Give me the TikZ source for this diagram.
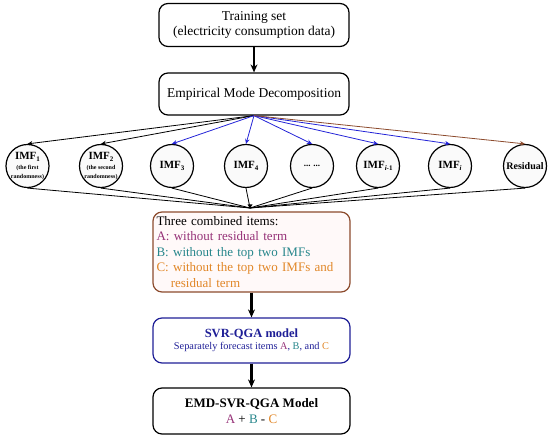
\documentclass[tikz,border=0pt]{standalone}
\usepackage{fontspec}
\setmainfont{Liberation Serif}
\usetikzlibrary{arrows.meta}

\definecolor{itemA}{RGB}{150,50,120}
\definecolor{itemB}{RGB}{40,135,140}
\definecolor{itemC}{RGB}{225,135,40}
\definecolor{brownline}{RGB}{140,75,45}
\definecolor{navy}{RGB}{30,30,150}
\definecolor{arrowblue}{RGB}{35,35,215}

\newcommand{\imfsub}[1]{\raisebox{-0.4ex}{\fontsize{7}{8}\selectfont #1}}
\newcommand{\tinyline}[1]{{\fontsize{6}{7}\selectfont #1}}

\tikzset{
  stagebox/.style={draw=black, line width=1.2pt, rounded corners=9pt, minimum width=190pt,
    align=center, font=\fontsize{13.5}{15.5}\selectfont},
  imfnode/.style={draw=black, line width=1.2pt, circle, minimum size=43pt, inner sep=0pt,
    fill=gray!4, align=center, font=\bfseries\fontsize{11}{12}\selectfont},
  flow/.style={-{Stealth[length=8pt,width=7pt]}, line width=2.4pt},
  split/.style={-{Stealth[length=5pt,width=4.5pt]}, line width=0.8pt},
  merge/.style={line width=0.8pt, black}
}

\begin{document}
\begin{tikzpicture}[x=1pt, y=1pt]
\useasboundingbox (0,0) rectangle (550,439);

% Input and decomposition
\node[stagebox, minimum height=43pt] (train) at (254,414)
  {Training set\\(electricity consumption data)};
\node[stagebox, minimum height=42pt] (emd) at (254,345)
  {Empirical Mode Decomposition};
\draw[flow] (train) -- (emd);

% Intrinsic mode functions
\def\circY{273}
\node[imfnode] (imf1) at (27.5,\circY)
  {IMF\imfsub{1}\\[-2pt]\tinyline{(the first}\\[-3pt]\tinyline{randomness)}};
\node[imfnode] (imf2) at (101,\circY)
  {IMF\imfsub{2}\\[-2pt]\tinyline{(the second}\\[-3pt]\tinyline{randomness)}};
\node[imfnode] (imf3) at (172,\circY) {IMF\imfsub{3}};
\node[imfnode] (imf4) at (246,\circY) {IMF\imfsub{4}};
\node[imfnode, font=\bfseries\fontsize{9}{10}\selectfont] (dots) at (312,\circY) {... ...};
\node[imfnode] (imfim) at (378,\circY) {IMF\imfsub{\textit{i}-1}};
\node[imfnode] (imfi) at (450,\circY) {IMF\imfsub{\textit{i}}};
\node[imfnode, font=\bfseries\fontsize{10}{11}\selectfont] (resid) at (525,\circY) {Residual};

% Split arrows
\coordinate (emdout) at (emd.south);
\foreach \n in {imf1,imf2}
  \draw[split] (emdout) -- (\n.north);
\foreach \n in {imf3,imf4,dots,imfim,imfi}
  \draw[split, arrowblue] (emdout) -- (\n.north);
\draw[split, brownline] (emdout) -- (resid.north);

% Combined items
\node[draw=brownline, line width=1.2pt, rounded corners=9pt, fill=pink!10,
  minimum width=197pt, minimum height=80pt, text width=190pt, align=left,
  inner sep=3pt, font=\fontsize{13}{15.5}\selectfont] (items) at (251.5,187)
  {Three combined items:\\
   \textcolor{itemA}{A: without residual term}\\
   \textcolor{itemB}{B: without the top two IMFs}\\
   \textcolor{itemC}{C: without the top two IMFs and}\\
   \textcolor{itemC}{\hspace*{1.1em}residual term}};
\coordinate (join) at (250,231);
\foreach \n in {imf1,imf2,imf3,imf4,dots,imfim,imfi,resid}
  \draw[merge] (\n.south) -- (join);
\fill (join) ++(-2.5,3.5) -- ++(5,0) -- ++(-2.5,-4) -- cycle;

% Forecasting model
\node[draw=navy, line width=1.2pt, rounded corners=9pt, minimum width=197pt,
  minimum height=45pt, align=center] (svr) at (251.5,98.5)
  {\textcolor{navy}{\bfseries\fontsize{12.5}{14}\selectfont SVR-QGA model}\\
   \fontsize{10.3}{12.5}\selectfont\textcolor{navy}{Separately forecast items}
   \textcolor{itemA}{A}\textcolor{navy}{,} \textcolor{itemB}{B}\textcolor{navy}{, and}
   \textcolor{itemC}{C}};
\draw[flow] (items) -- (svr);

% Final model
\node[stagebox, minimum width=197pt, minimum height=46pt] (final) at (251.5,28)
  {\bfseries\fontsize{13}{16}\selectfont EMD-SVR-QGA Model\\
   \fontsize{13}{16}\selectfont\textcolor{itemA}{A} + \textcolor{itemB}{B} -
   \textcolor{itemC}{C}};
\draw[flow] (svr) -- (final);

\end{tikzpicture}
\end{document}
